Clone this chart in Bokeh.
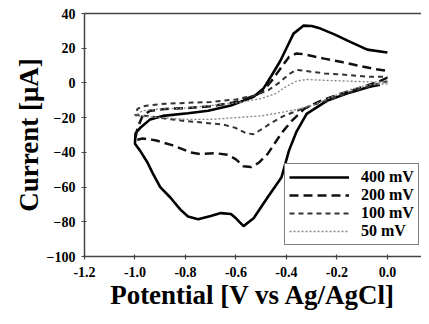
from bokeh.plotting import figure
from bokeh.models import Range1d, FixedTicker, PrintfTickFormatter, LinearAxis
from bokeh.embed import file_html
from bokeh.resources import INLINE

# ---- data ----
x_ticks = [-1.2, -1.0, -0.8, -0.6, -0.4, -0.2, 0.0]
y_ticks = [-100, -80, -60, -40, -20, 0, 20, 40]

labels = ["400 mV", "200 mV", "100 mV", "50 mV"]

v400_x = [-0.03, -0.07, -0.15, -0.24, -0.32, -0.36, -0.39, -0.42, -0.475, -0.53, -0.57, -0.60, -0.62, -0.66,
          -0.70, -0.75, -0.79, -0.82, -0.86, -0.90, -0.93, -0.95, -0.98, -1.00,
          -0.998, -0.98, -0.94, -0.89, -0.79, -0.71, -0.62, -0.53, -0.49, -0.46, -0.424, -0.40, -0.372,
          -0.333, -0.30, -0.265, -0.21, -0.158, -0.08, 0.0]
v400_y = [-1, -2.2, -5.6, -10.3, -17.8, -28, -39, -54.5, -66, -78, -82.5, -78, -75.5, -75,
          -76.6, -78.5, -77, -73, -66, -60, -52, -46, -39, -35,
          -29, -26, -21, -19, -17.5, -16, -13, -8, -3, 4, 12.8, 20, 28.4,
          33, 32.8, 31.3, 28, 24.4, 19.2, 17.5]

v200_x = [0.0, -0.03, -0.10, -0.18, -0.26, -0.33, -0.38, -0.42, -0.475, -0.51, -0.54, -0.57, -0.60, -0.63,
          -0.68, -0.74, -0.78, -0.85, -0.92, -0.97, -1.0,
          -0.99, -0.97, -0.94, -0.88, -0.80, -0.70, -0.60, -0.52, -0.49, -0.46, -0.42, -0.39, -0.36,
          -0.33, -0.25, -0.18, -0.10, -0.05, 0.0]
v200_y = [3, 1, -2.5, -6, -10, -15, -22, -29, -41, -46, -48.5, -48, -44, -41.5,
          -40.5, -41, -40, -36, -33, -32, -33,
          -26, -19, -16, -15, -14.5, -13.5, -11, -7, -4, 1, 9, 15, 17,
          16.5, 14, 12, 9.5, 8, 7]

v100_x = [0.0, -0.05, -0.12, -0.20, -0.28, -0.33, -0.41, -0.46, -0.49, -0.53, -0.56, -0.60, -0.65, -0.72,
          -0.80, -0.88, -0.95, -1.0,
          -0.99, -0.97, -0.95, -0.88, -0.80, -0.70, -0.60, -0.52, -0.47, -0.43, -0.39, -0.36, -0.33,
          -0.25, -0.15, -0.07, 0.0]
v100_y = [1, -1, -4, -8, -12, -14.5, -19, -23, -26, -29.5, -29, -26, -24, -23,
          -22, -20.5, -19, -18.5,
          -15, -13.5, -13, -12, -11.5, -11, -9.5, -7, -4, 0, 5, 7.5, 7,
          5.5, 4.5, 3.5, 3.5]

v50_x = [0.0, -0.07, -0.15, -0.22, -0.29, -0.35, -0.42, -0.50, -0.60, -0.70, -0.80, -0.90, -1.0,
         -0.97, -0.90, -0.80, -0.70, -0.60, -0.50, -0.44, -0.40, -0.36, -0.32, -0.25, -0.15, -0.05, 0.0]
v50_y = [-0.5, -1, -4, -8, -12.5, -15, -17, -19, -20, -21, -21, -20, -19,
         -16, -15, -14.5, -13, -11.5, -9, -6, -2, 1, 2, 1.5, 1, 0.5, 0.5]

FONT = "Liberation Serif"
AXIS_COL = "#444444"

p = figure(width=421, height=316, output_backend="svg", toolbar_location=None,
           x_range=Range1d(-1.2, 0.135), y_range=Range1d(-100, 40),
           min_border_left=84, min_border_right=0, min_border_top=13, min_border_bottom=60,
           background_fill_color="white", border_fill_color="white")
p.outline_line_color = None
p.xgrid.visible = False
p.ygrid.visible = False

p.line(v400_x, v400_y, line_color="black", line_width=2.6, legend_label=labels[0])
p.line(v200_x, v200_y, line_color="#111111", line_width=2.5, line_dash="9 5", legend_label=labels[1])
p.line(v100_x, v100_y, line_color="#333333", line_width=2.0, line_dash="5 4", legend_label=labels[2])
p.line(v50_x, v50_y, line_color="#888888", line_width=1.4, line_dash="2 2", legend_label=labels[3])

for ax in (p.xaxis[0], p.yaxis[0]):
    ax.axis_line_color = AXIS_COL
    ax.axis_line_width = 1.5
    ax.major_tick_line_color = AXIS_COL
    ax.major_tick_line_width = 1.2
    ax.major_tick_in = 2
    ax.major_tick_out = 3
    ax.minor_tick_line_color = None
    ax.major_label_text_font = FONT
    ax.major_label_text_font_style = "bold"
    ax.major_label_text_font_size = "14px"
    ax.major_label_text_color = "black"
    ax.axis_label_text_font = FONT
    ax.axis_label_text_font_style = "bold"
    ax.axis_label_text_font_size = "27px"
    ax.axis_label_text_color = "black"

p.xaxis[0].ticker = FixedTicker(ticks=x_ticks)
p.xaxis[0].formatter = PrintfTickFormatter(format="%.1f")
p.xaxis[0].major_label_standoff = 7
p.xaxis[0].axis_label = "Potential [V vs Ag/AgCl]"
p.xaxis[0].axis_label_standoff = 0

p.yaxis[0].ticker = FixedTicker(ticks=y_ticks)
p.yaxis[0].major_label_standoff = 6
p.yaxis[0].axis_label = "Current [μA]"
p.yaxis[0].axis_label_standoff = 0

top = LinearAxis(ticker=FixedTicker(ticks=[]), axis_line_color=AXIS_COL, axis_line_width=1.5,
                 major_tick_line_color=None, minor_tick_line_color=None,
                 major_tick_out=0, major_tick_in=0, major_label_standoff=0)
p.add_layout(top, "above")

lg = p.legend[0]
lg.location = (200, 11)
lg.margin = 0
lg.padding = 4
lg.spacing = 0
lg.glyph_width = 60
lg.glyph_height = 16
lg.label_height = 16
lg.label_standoff = 12
lg.label_text_font = FONT
lg.label_text_font_style = "bold"
lg.label_text_font_size = "16px"
lg.label_text_color = "black"
lg.border_line_color = "black"
lg.border_line_width = 1
lg.background_fill_color = "white"
lg.background_fill_alpha = 1.0

open("out.html", "w").write(file_html(p, INLINE))
